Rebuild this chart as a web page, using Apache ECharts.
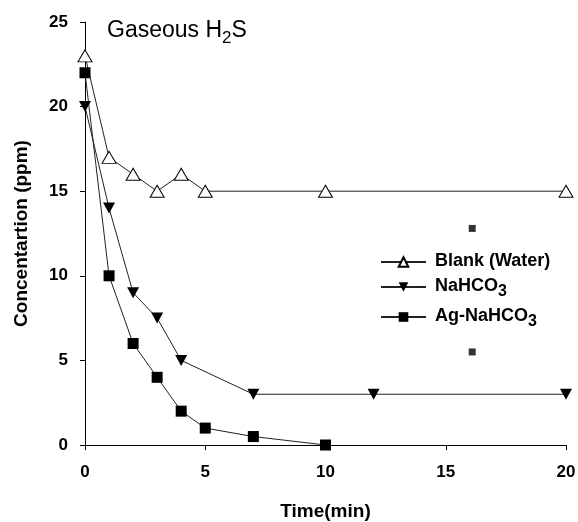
<!DOCTYPE html>
<html>
<head>
    <meta charset="utf-8">
    <script src="https://cdn.jsdelivr.net/npm/echarts@6/dist/echarts.min.js"></script>
</head>
<body style="margin:0">
<div id="main" style="width: 578px;height:522px;"></div>

<script type="text/javascript">
    // data (time in min, concentration in ppm)
    var blankTime = [0, 1, 2, 3, 4, 5, 10, 20];
    var blankConc = [23, 17, 16, 15, 16, 15, 15, 15];
    var nahTime = [0, 1, 2, 3, 4, 7, 12, 20];
    var nahConc = [20, 14, 9, 7.5, 5, 3, 3, 3];
    var agTime = [0, 1, 2, 3, 4, 5, 7, 10];
    var agConc = [22, 10, 6, 4, 2, 1, 0.5, 0];
    // two stray square marks around the legend
    var strayTime = [16.1, 16.1];
    var strayConc = [12.8, 5.5];
    var xTicks = [0, 5, 10, 15, 20];
    var yTicks = [0, 5, 10, 15, 20, 25];

    function pairs(xs, ys) {
        return xs.map(function (x, i) { return [x, ys[i]]; });
    }

    var font = 'Liberation Sans, Arial, sans-serif';
    var downTri = 'path://M0,0 L10,0 L5,10 Z';

    var dom = document.getElementById("main");
    var myChart = echarts.init(dom);
    var option = {
        animation: false,
        backgroundColor: '#fff',
        title: {
            text: '{a|Gaseous H}{s|2}{a|S}',
            left: 102,
            top: 14,
            textStyle: {
                fontWeight: 'normal',
                rich: {
                    a: { fontFamily: font, fontSize: 23, fontWeight: 'normal', color: '#000', lineHeight: 27, verticalAlign: 'top' },
                    s: { fontFamily: font, fontSize: 17, fontWeight: 'normal', color: '#000', lineHeight: 17, padding: [11, 0, 0, 0], verticalAlign: 'top' }
                }
            }
        },
        grid: { left: 85, right: 12, top: 22, bottom: 77, outerBoundsMode: 'none' },
        legend: {
            orient: 'vertical',
            left: 375,
            top: 247,
            itemWidth: 45,
            itemHeight: 12,
            itemGap: 7,
            data: ['Blank (Water)', 'NaHCO3', 'Ag-NaHCO3'],
            formatter: function (name) {
                if (name === 'NaHCO3') return '{a|NaHCO}{s|3}';
                if (name === 'Ag-NaHCO3') return '{a|Ag-NaHCO}{s|3}';
                return '{a|' + name + '}';
            },
            textStyle: {
                rich: {
                    a: { fontFamily: font, fontSize: 18, fontWeight: 'bold', color: '#000', lineHeight: 20, padding: [0, 0, 0, 4], verticalAlign: 'top' },
                    s: { fontFamily: font, fontSize: 16, fontWeight: 'bold', color: '#000', lineHeight: 14, padding: [7, 0, 0, 0], verticalAlign: 'top' }
                }
            }
        },
        xAxis: {
            type: 'value',
            min: 0,
            max: 20,
            interval: 5,
            name: 'Time(min)',
            nameLocation: 'middle',
            nameGap: 57,
            nameTextStyle: { fontFamily: font, fontSize: 19, fontWeight: 'bold', color: '#000' },
            splitLine: { show: false },
            axisLine: { lineStyle: { color: '#000', width: 1 } },
            axisTick: { length: 5, lineStyle: { color: '#000' } },
            axisLabel: {
                fontFamily: font, fontSize: 17, fontWeight: 'bold', color: '#000', margin: 19,
                formatter: function (v) { return xTicks.indexOf(v) >= 0 ? v : ''; }
            }
        },
        yAxis: {
            type: 'value',
            min: 0,
            max: 25,
            interval: 5,
            name: 'Concentartion (ppm)',
            nameLocation: 'middle',
            nameGap: 54,
            nameTextStyle: { fontFamily: font, fontSize: 19, fontWeight: 'bold', color: '#000' },
            splitLine: { show: false },
            axisLine: { show: true, lineStyle: { color: '#000', width: 1 } },
            axisTick: { show: true, length: 5, lineStyle: { color: '#000' } },
            axisLabel: {
                fontFamily: font, fontSize: 17, fontWeight: 'bold', color: '#000', margin: 17,
                formatter: function (v) { return yTicks.indexOf(v) >= 0 ? v : ''; }
            }
        },
        series: [{
            name: 'Blank (Water)',
            type: 'line',
            data: pairs(blankTime, blankConc),
            symbol: 'triangle',
            symbolSize: [14, 12],
            lineStyle: { color: '#222', width: 1 },
            itemStyle: { color: '#fff', borderColor: '#000', borderWidth: 1 }
        }, {
            name: 'NaHCO3',
            type: 'line',
            data: pairs(nahTime, nahConc),
            symbol: downTri,
            symbolSize: [12, 11],
            lineStyle: { color: '#222', width: 1 },
            itemStyle: { color: '#000', borderColor: '#000', borderWidth: 0 }
        }, {
            name: 'Ag-NaHCO3',
            type: 'line',
            data: pairs(agTime, agConc),
            symbol: 'rect',
            symbolSize: 11,
            lineStyle: { color: '#222', width: 1 },
            itemStyle: { color: '#000', borderColor: '#000', borderWidth: 0 }
        }, {
            name: 'stray',
            type: 'scatter',
            data: pairs(strayTime, strayConc),
            symbol: 'rect',
            symbolSize: 7,
            itemStyle: { color: '#000' },
            silent: true
        }]
    };
    myChart.setOption(option, true);
</script>
</body>
</html>
